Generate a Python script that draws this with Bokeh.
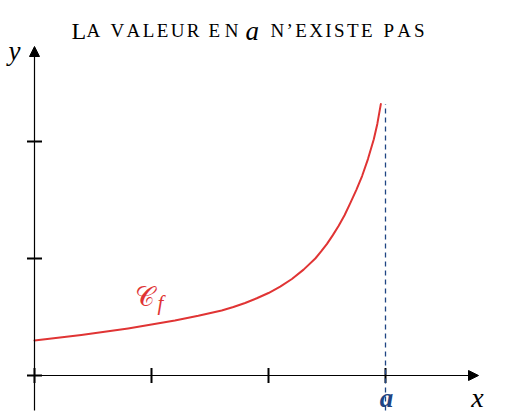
from bokeh.plotting import figure
from bokeh.models import Range1d, Arrow, NormalHead, ColumnDataSource
from bokeh.core.properties import value
from bokeh.embed import file_html
from bokeh.resources import INLINE

# ---- data -------------------------------------------------------------
curve_x = [0.0, 0.2, 0.4, 0.6, 0.8, 1.0, 1.2, 1.4, 1.6, 1.7, 1.8, 1.9, 2.0,
           2.1, 2.2, 2.3, 2.4, 2.45, 2.5, 2.55, 2.6, 2.65, 2.7, 2.75, 2.8,
           2.85, 2.9, 2.93, 2.96]
curve_y = [0.300, 0.323, 0.347, 0.373, 0.402, 0.435, 0.470, 0.510, 0.555,
           0.585, 0.620, 0.660, 0.705, 0.760, 0.825, 0.905, 1.000, 1.060,
           1.125, 1.200, 1.280, 1.370, 1.475, 1.585, 1.705, 1.850, 2.020,
           2.150, 2.320]
a_value = 3
x_ticks = [0, 1, 2, 3]
y_ticks = [0, 1, 2]
x_label = "x"
y_label = "y"
a_label = "a"
curve_name = "𝒞"
curve_sub = "f"

# ---- layout -----------------------------------------------------------
W, H = 517, 414
UNIT = 117          # pixels per unit on both axes
OX, OY = 34, 375    # pixel position of the origin

def dx(px):
    return (px - OX) / UNIT

def dy(py):
    return (OY - py) / UNIT

p = figure(width=W, height=H, output_backend="svg", toolbar_location=None,
           x_range=Range1d(dx(0), dx(W)), y_range=Range1d(dy(H), dy(0)),
           x_axis_type=None, y_axis_type=None, min_border=0,
           outline_line_color=None, background_fill_color="white")
p.grid.visible = False

SERIF = value("Liberation Serif")
RED = "#e03434"
BLUE = "#1f4583"

# axes with arrow heads
p.add_layout(Arrow(end=NormalHead(size=10, fill_color="black", line_color="black", line_width=1),
                   x_start=0, y_start=dy(410), x_end=0, y_end=dy(46),
                   line_color="black", line_width=1.2))
p.add_layout(Arrow(end=NormalHead(size=10, fill_color="black", line_color="black", line_width=1),
                   x_start=0, y_start=0, x_end=dx(478), y_end=0,
                   line_color="black", line_width=1.2))

# ticks
tk = 7.5 / UNIT
p.segment(x0=x_ticks, y0=[-tk] * len(x_ticks), x1=x_ticks, y1=[tk] * len(x_ticks),
          line_color="black", line_width=2)
p.segment(x0=[-tk] * len(y_ticks), y0=y_ticks, x1=[tk] * len(y_ticks), y1=y_ticks,
          line_color="black", line_width=2)

# dashed vertical line at x = a
p.segment(x0=[a_value], y0=[dy(410)], x1=[a_value], y1=[curve_y[-1]],
          line_color=BLUE, line_width=1.3, line_dash="5 4")

# the curve
p.line(curve_x, curve_y, line_color=RED, line_width=2, line_join="round", line_cap="round")

# axis names and the point a
p.text(x=[dx(14)], y=[dy(50)], text=[y_label], text_font=SERIF, text_font_style="italic",
       text_font_size="27px", text_align="center", text_baseline="alphabetic", text_color="black")
p.text(x=[dx(477)], y=[dy(397)], text=[x_label], text_font=SERIF, text_font_style="italic",
       text_font_size="28px", text_align="center", text_baseline="alphabetic", text_color="black")
p.text(x=[a_value + 1 / UNIT], y=[dy(397)], text=[a_label], text_font=SERIF,
       text_font_style="bold italic", text_font_size="27px", text_align="center",
       text_baseline="alphabetic", text_color=BLUE)

# curve name
p.text(x=[dx(144)], y=[dy(296)], text=[curve_name], text_font=value("DejaVu Serif"),
       text_font_size="27px", text_align="center", text_baseline="alphabetic", text_color=RED)
p.text(x=[dx(157)], y=[dy(302)], text=[curve_sub], text_font=SERIF, text_font_style="italic",
       text_font_size="21px", text_align="left", text_baseline="alphabetic", text_color=RED)

# ---- title in small capitals --------------------------------------------
ADV = {"A": .722, "V": .722, "L": .611, "E": .611, "U": .722, "R": .667, "N": .722,
       "’": .333, "X": .722, "I": .333, "S": .556, "T": .611, "P": .556, "a": .5}

# (word, left px, right px, font size, style)
title_words = [("L", 71, 87, 24, "normal"),
               ("A", 86, 98, 19, "normal"),
               ("VALEUR", 110, 199, 19, "normal"),
               ("EN", 208, 238, 19, "normal"),
               ("a", 245, 262, 27, "italic"),
               ("N’EXISTE", 270, 372, 19, "normal"),
               ("PAS", 383, 424, 19, "normal")]
TITLE_BASE = 30

groups = {}
for word, left, right, size, style in title_words:
    natural = sum(ADV[c] for c in word) * size
    track = (right - left - natural) / (len(word) - 1) if len(word) > 1 else 0
    pos = left
    for c in word:
        g = groups.setdefault((size, style), {"x": [], "y": [], "text": []})
        g["x"].append(dx(pos))
        g["y"].append(dy(TITLE_BASE))
        g["text"].append(c)
        pos += ADV[c] * size + track

for (size, style), g in groups.items():
    p.text(x="x", y="y", text="text", source=ColumnDataSource(g), text_font=SERIF,
           text_font_style=style, text_font_size=f"{size}px", text_align="left",
           text_baseline="alphabetic", text_color="black")

open("out.html", "w").write(file_html(p, INLINE))
